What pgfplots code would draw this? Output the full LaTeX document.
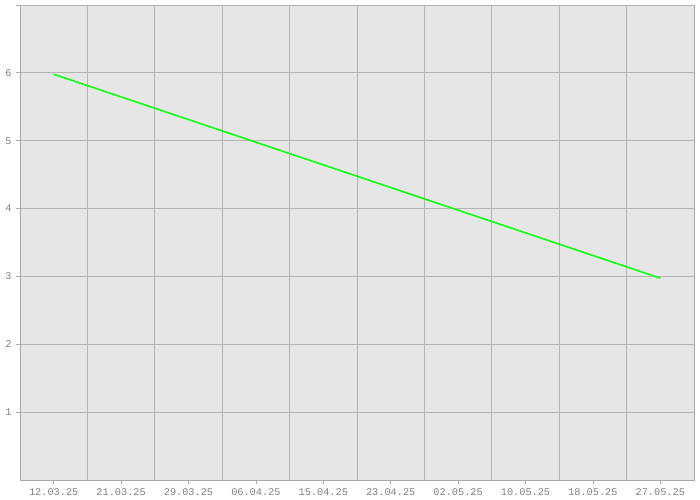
\documentclass[border=0pt]{standalone}
\usepackage{pgfplots}
\pgfplotsset{compat=1.18}
\usepackage{fontspec}
\setmainfont{Liberation Mono}
\definecolor{bgc}{HTML}{E6E6E6}
\definecolor{gridc}{HTML}{B4B4B4}
\definecolor{axc}{HTML}{AAAAAA}
\definecolor{labc}{HTML}{808080}
\definecolor{linec}{HTML}{00FF00}
\begin{document}
\begin{tikzpicture}[x=1bp,y=1bp]
\useasboundingbox (-20bp,-20bp) rectangle (680bp,480bp);
\begin{axis}[
  scale only axis,
  anchor=south west,
  at={(0,0)},
  width=674bp, height=475bp,
  xmin=-0.5, xmax=9.5,
  ymin=0, ymax=7,
  axis background/.style={fill=bgc},
  axis line style={draw=axc, line width=0.8pt},
  xtick={0,...,9},
  xticklabels={12.03.25,21.03.25,29.03.25,06.04.25,15.04.25,23.04.25,02.05.25,10.05.25,18.05.25,27.05.25},
  minor xtick={0.5,1.5,...,8.5},
  ytick={1,...,6},
  extra y ticks={7},
  extra y tick labels={},
  xmajorgrids=false, xminorgrids=true,
  ymajorgrids=true,
  grid style={draw=gridc, line width=0.8pt},
  minor grid style={draw=gridc, line width=0.8pt},
  tick style={draw=axc, line width=0.8pt},
  tick align=outside,
  major tick length=4bp,
  minor tick length=0pt,
  xtick pos=bottom, ytick pos=left,
  tick label style={font=\fontsize{10.3}{12}\selectfont, text=labc},
  /pgf/number format/assume math mode=true,
  xticklabel style={yshift=-1bp},
  yticklabel style={xshift=-1bp},
]
\addplot[linec, line width=1.5bp, mark=none] coordinates {(0,5.98) (9,2.975)};
\end{axis}
\end{tikzpicture}
\end{document}
